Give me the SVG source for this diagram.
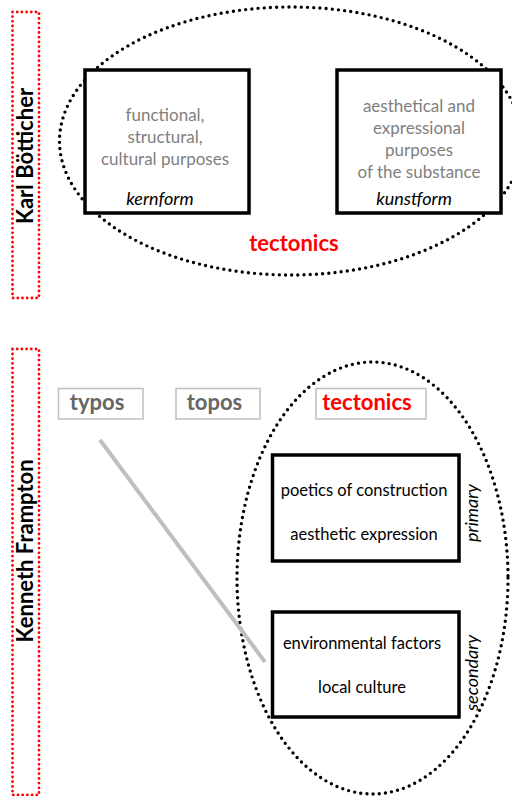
<svg xmlns="http://www.w3.org/2000/svg" width="512" height="796" viewBox="0 0 512 796">
<style>
  text { font-family: Lato, "Open Sans", "Liberation Sans", sans-serif; }
  .redframe { fill: none; stroke: #ff0000; stroke-width: 2.8; stroke-dasharray: 0 4.7; stroke-linecap: round; }
  .dotell { fill: none; stroke: #000; stroke-width: 3.4; stroke-dasharray: 0 6.2; stroke-linecap: round; }
  .box { fill: #fff; stroke: #000; stroke-width: 3.5; }
  .tag { fill: #fff; stroke: #bfbfbf; stroke-width: 1.5; }
  .name { font-size: 22px; font-weight: bold; fill: #000; }
  .gray { font-size: 17px; fill: #7f7f7f; text-anchor: middle; }
  .ital { font-size: 18px; font-style: italic; fill: #000; text-anchor: middle; }
  .blk { font-size: 16.5px; fill: #000; text-anchor: middle; }
  .red { font-size: 22px; font-weight: bold; fill: #ff0000; text-anchor: middle; }
  .tagtxt { font-size: 22px; font-weight: bold; fill: #666; text-anchor: middle; }
  .conn { stroke: #bfbfbf; stroke-width: 4; fill: none; }
</style>

<!-- Karl Bötticher section -->
<g id="karl-label">
  <rect class="redframe" x="12.5" y="12" width="26.5" height="286"/>
  <text class="name" text-anchor="middle" transform="translate(33,156) rotate(-90)">Karl Bötticher</text>
</g>
<g id="tectonics-top">
  <ellipse class="dotell" cx="291" cy="141" rx="231.5" ry="134"/>
  <text class="red" x="294" y="251">tectonics</text>
</g>
<g id="kernform">
  <rect class="box" x="85" y="70" width="164" height="143"/>
  <text class="gray" x="165" y="121">functional,</text>
  <text class="gray" x="165" y="143">structural,</text>
  <text class="gray" x="165" y="165">cultural purposes</text>
  <text class="ital" x="160" y="205">kernform</text>
</g>
<g id="kunstform">
  <rect class="box" x="337" y="70" width="164" height="143"/>
  <text class="gray" x="419" y="112">aesthetical and</text>
  <text class="gray" x="419" y="134">expressional</text>
  <text class="gray" x="419" y="156">purposes</text>
  <text class="gray" x="419" y="178">of the substance</text>
  <text class="ital" x="414" y="205">kunstform</text>
</g>

<!-- Kenneth Frampton section -->
<g id="frampton-label">
  <rect class="redframe" x="12.5" y="349" width="26.5" height="446"/>
  <text class="name" text-anchor="middle" transform="translate(33,551) rotate(-90)">Kenneth Frampton</text>
</g>
<g id="tectonics-bottom">
  <ellipse class="dotell" cx="372.5" cy="578" rx="135.5" ry="216"/>
</g>
<g id="typos">
  <rect class="tag" x="58.5" y="388.5" width="84.5" height="30.5"/>
  <text class="tagtxt" x="97" y="410">typos</text>
</g>
<g id="topos">
  <rect class="tag" x="176" y="388.5" width="84" height="30.5"/>
  <text class="tagtxt" x="214.5" y="410">topos</text>
</g>
<g id="tectonics-tag">
  <rect class="tag" x="316" y="388.5" width="110" height="30.5"/>
  <text class="red" x="367" y="410">tectonics</text>
</g>
<g id="primary">
  <rect class="box" x="272.5" y="455" width="186.5" height="106"/>
  <text class="blk" x="364" y="496">poetics of construction</text>
  <text class="blk" x="364" y="540">aesthetic expression</text>
  <text class="ital" transform="translate(478,513) rotate(-90)">primary</text>
</g>
<g id="secondary">
  <rect class="box" x="272.5" y="612" width="186.5" height="105"/>
  <text class="blk" x="362" y="649">environmental factors</text>
  <text class="blk" x="362" y="693">local culture</text>
  <text class="ital" transform="translate(478,673) rotate(-90)">secondary</text>
</g>

<g id="connectors">
  <line class="conn" x1="100" y1="440" x2="265" y2="662"/>
</g>
</svg>
